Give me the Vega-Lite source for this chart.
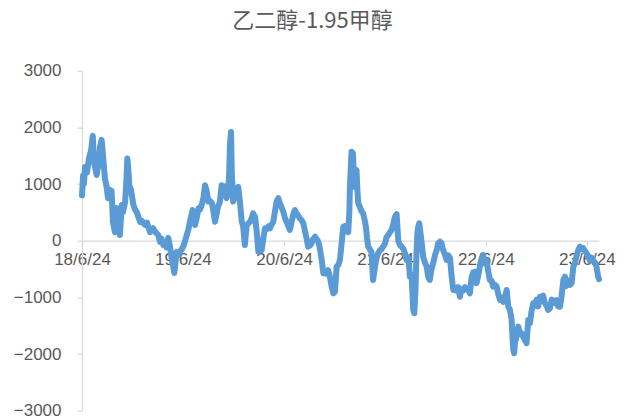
{
  "$schema": "https://vega.github.io/schema/vega-lite/v6.json",
  "width": 517,
  "height": 340,
  "autosize": {"type": "none"},
  "padding": {"left": 82, "top": 70.7, "right": 30, "bottom": 9.3},
  "background": "#ffffff",
  "config": {"view": {"stroke": null}, "font": "Liberation Sans"},
  "title": {
    "text": "乙二醇-1.95甲醇",
    "font": "Noto Sans CJK SC",
    "fontSize": 22,
    "fontWeight": "normal",
    "color": "#595959",
    "anchor": "middle",
    "dx": -28,
    "offset": 29
  },
  "data": {
    "format": {"parse": {"d": "date:'%Y-%j'"}},
    "values": [
      {"d":"2018-175","v":800},{"d":"2018-179","v":1150},{"d":"2018-182","v":1000},{"d":"2018-186","v":1300},{"d":"2018-193","v":1200},{"d":"2018-200","v":1450},{"d":"2018-208","v":1600},{"d":"2018-214","v":1850},{"d":"2018-218","v":1400},{"d":"2018-228","v":1160},{"d":"2018-233","v":1300},{"d":"2018-240","v":1650},{"d":"2018-246","v":1780},{"d":"2018-251","v":1500},{"d":"2018-258","v":1100},{"d":"2018-264","v":950},{"d":"2018-269","v":750},{"d":"2018-274","v":900},{"d":"2018-282","v":880},{"d":"2018-287","v":330},{"d":"2018-294","v":150},{"d":"2018-300","v":575},{"d":"2018-305","v":450},{"d":"2018-312","v":100},{"d":"2018-319","v":630},{"d":"2018-323","v":500},{"d":"2018-331","v":680},{"d":"2018-336","v":1100},{"d":"2018-339","v":1450},{"d":"2018-342","v":1300},{"d":"2018-346","v":980},{"d":"2018-352","v":900},{"d":"2018-361","v":630},
      {"d":"2019-002","v":550},{"d":"2019-008","v":505},{"d":"2019-014","v":420},{"d":"2019-020","v":330},{"d":"2019-027","v":350},{"d":"2019-032","v":310},{"d":"2019-038","v":280},{"d":"2019-045","v":320},{"d":"2019-056","v":150},{"d":"2019-067","v":220},{"d":"2019-074","v":160},{"d":"2019-086","v":100},{"d":"2019-092","v":-20},{"d":"2019-097","v":40},{"d":"2019-104","v":-75},{"d":"2019-110","v":-50},{"d":"2019-116","v":-120},{"d":"2019-122","v":50},{"d":"2019-128","v":-100},{"d":"2019-134","v":-300},{"d":"2019-140","v":-450},{"d":"2019-144","v":-570},{"d":"2019-148","v":-400},{"d":"2019-152","v":-200},{"d":"2019-159","v":-250},{"d":"2019-164","v":-195},{"d":"2019-170","v":-160},{"d":"2019-176","v":-105},{"d":"2019-182","v":-20},{"d":"2019-189","v":100},{"d":"2019-195","v":200},{"d":"2019-201","v":350},{"d":"2019-210","v":540},{"d":"2019-215","v":420},{"d":"2019-219","v":277},{"d":"2019-225","v":400},{"d":"2019-231","v":570},{"d":"2019-237","v":550},{"d":"2019-243","v":630},{"d":"2019-249","v":750},{"d":"2019-255","v":980},{"d":"2019-260","v":900},{"d":"2019-267","v":690},{"d":"2019-273","v":700},{"d":"2019-280","v":660},{"d":"2019-286","v":500},{"d":"2019-291","v":335},{"d":"2019-296","v":450},{"d":"2019-302","v":600},{"d":"2019-309","v":690},{"d":"2019-315","v":980},{"d":"2019-322","v":950},{"d":"2019-327","v":960},{"d":"2019-333","v":750},{"d":"2019-340","v":900},{"d":"2019-343","v":1300},{"d":"2019-345","v":1690},{"d":"2019-349","v":1920},{"d":"2019-352","v":1160},{"d":"2019-357","v":690},{"d":"2019-363","v":800},
      {"d":"2020-004","v":900},{"d":"2020-010","v":950},{"d":"2020-016","v":700},{"d":"2020-023","v":335},{"d":"2020-028","v":250},{"d":"2020-034","v":-75},{"d":"2020-041","v":277},{"d":"2020-046","v":300},{"d":"2020-053","v":335},{"d":"2020-059","v":400},{"d":"2020-064","v":483},{"d":"2020-071","v":420},{"d":"2020-077","v":160},{"d":"2020-083","v":-195},{"d":"2020-089","v":-100},{"d":"2020-095","v":-165},{"d":"2020-101","v":40},{"d":"2020-107","v":218},{"d":"2020-112","v":200},{"d":"2020-119","v":250},{"d":"2020-125","v":218},{"d":"2020-130","v":280},{"d":"2020-137","v":335},{"d":"2020-143","v":520},{"d":"2020-149","v":690},{"d":"2020-155","v":750},{"d":"2020-161","v":650},{"d":"2020-166","v":600},{"d":"2020-173","v":510},{"d":"2020-179","v":400},{"d":"2020-185","v":335},{"d":"2020-192","v":250},{"d":"2020-197","v":189},{"d":"2020-204","v":350},{"d":"2020-210","v":480},{"d":"2020-215","v":540},{"d":"2020-221","v":480},{"d":"2020-226","v":450},{"d":"2020-232","v":400},{"d":"2020-239","v":365},{"d":"2020-246","v":300},{"d":"2020-251","v":180},{"d":"2020-257","v":50},{"d":"2020-263","v":-105},{"d":"2020-270","v":-80},{"d":"2020-275","v":-50},{"d":"2020-280","v":20},{"d":"2020-288","v":70},{"d":"2020-293","v":30},{"d":"2020-298","v":0},{"d":"2020-304","v":-100},{"d":"2020-312","v":-340},{"d":"2020-318","v":-575},{"d":"2020-324","v":-560},{"d":"2020-329","v":-580},{"d":"2020-335","v":-520},{"d":"2020-340","v":-600},{"d":"2020-348","v":-810},{"d":"2020-354","v":-930},{"d":"2020-360","v":-900},{"d":"2020-366","v":-460},
      {"d":"2021-007","v":-420},{"d":"2021-012","v":-340},{"d":"2021-017","v":-100},{"d":"2021-024","v":247},{"d":"2021-030","v":260},{"d":"2021-036","v":247},{"d":"2021-042","v":150},{"d":"2021-046","v":500},{"d":"2021-048","v":950},{"d":"2021-054","v":1570},{"d":"2021-059","v":1540},{"d":"2021-064","v":950},{"d":"2021-072","v":1247},{"d":"2021-075","v":900},{"d":"2021-078","v":660},{"d":"2021-084","v":600},{"d":"2021-090","v":520},{"d":"2021-096","v":483},{"d":"2021-102","v":350},{"d":"2021-106","v":247},{"d":"2021-110","v":50},{"d":"2021-114","v":-105},{"d":"2021-120","v":-150},{"d":"2021-126","v":-200},{"d":"2021-132","v":-693},{"d":"2021-139","v":-450},{"d":"2021-144","v":-300},{"d":"2021-150","v":-222},{"d":"2021-157","v":-165},{"d":"2021-162","v":-150},{"d":"2021-169","v":-100},{"d":"2021-175","v":-50},{"d":"2021-181","v":70},{"d":"2021-187","v":100},{"d":"2021-193","v":150},{"d":"2021-199","v":189},{"d":"2021-205","v":300},{"d":"2021-211","v":423},{"d":"2021-217","v":470},{"d":"2021-223","v":0},{"d":"2021-229","v":-80},{"d":"2021-235","v":-105},{"d":"2021-242","v":-150},{"d":"2021-247","v":-220},{"d":"2021-253","v":-340},{"d":"2021-260","v":-300},{"d":"2021-265","v":-635},{"d":"2021-271","v":-600},{"d":"2021-274","v":-900},{"d":"2021-277","v":-1222},{"d":"2021-281","v":-1280},{"d":"2021-285","v":-900},{"d":"2021-289","v":-200},{"d":"2021-292","v":130},{"d":"2021-295","v":247},{"d":"2021-299","v":307},{"d":"2021-303","v":150},{"d":"2021-309","v":-100},{"d":"2021-313","v":-282},{"d":"2021-319","v":-380},{"d":"2021-326","v":-460},{"d":"2021-331","v":-635},{"d":"2021-337","v":-693},{"d":"2021-343","v":-500},{"d":"2021-349","v":-400},{"d":"2021-356","v":-250},{"d":"2021-362","v":-165},
      {"d":"2022-002","v":-50},{"d":"2022-009","v":-18},{"d":"2022-014","v":-40},{"d":"2022-019","v":-150},{"d":"2022-027","v":-250},{"d":"2022-033","v":-340},{"d":"2022-039","v":-260},{"d":"2022-045","v":-300},{"d":"2022-051","v":-635},{"d":"2022-057","v":-870},{"d":"2022-063","v":-850},{"d":"2022-068","v":-880},{"d":"2022-074","v":-820},{"d":"2022-081","v":-988},{"d":"2022-086","v":-850},{"d":"2022-092","v":-880},{"d":"2022-099","v":-820},{"d":"2022-104","v":-860},{"d":"2022-111","v":-850},{"d":"2022-117","v":-930},{"d":"2022-123","v":-650},{"d":"2022-129","v":-560},{"d":"2022-135","v":-550},{"d":"2022-141","v":-750},{"d":"2022-147","v":-620},{"d":"2022-153","v":-460},{"d":"2022-159","v":-350},{"d":"2022-165","v":-252},{"d":"2022-171","v":-400},{"d":"2022-178","v":-350},{"d":"2022-182","v":-500},{"d":"2022-189","v":-693},{"d":"2022-195","v":-700},{"d":"2022-201","v":-810},{"d":"2022-208","v":-780},{"d":"2022-214","v":-810},{"d":"2022-220","v":-950},{"d":"2022-226","v":-1045},{"d":"2022-232","v":-1000},{"d":"2022-238","v":-1080},{"d":"2022-244","v":-1000},{"d":"2022-250","v":-870},{"d":"2022-256","v":-1164},{"d":"2022-262","v":-1222},{"d":"2022-268","v":-1400},{"d":"2022-271","v":-1700},{"d":"2022-274","v":-1928},{"d":"2022-277","v":-1986},{"d":"2022-280","v":-1800},{"d":"2022-285","v":-1700},{"d":"2022-292","v":-1516},{"d":"2022-298","v":-1650},{"d":"2022-304","v":-1633},{"d":"2022-310","v":-1700},{"d":"2022-316","v":-1751},{"d":"2022-322","v":-1810},{"d":"2022-328","v":-1400},{"d":"2022-334","v":-1457},{"d":"2022-340","v":-1250},{"d":"2022-346","v":-1104},{"d":"2022-352","v":-1150},{"d":"2022-358","v":-1045},{"d":"2022-364","v":-1160},
      {"d":"2023-005","v":-988},{"d":"2023-011","v":-1000},{"d":"2023-017","v":-970},{"d":"2023-023","v":-1100},{"d":"2023-030","v":-1150},{"d":"2023-035","v":-1222},{"d":"2023-041","v":-1200},{"d":"2023-048","v":-1040},{"d":"2023-053","v":-1050},{"d":"2023-060","v":-1100},{"d":"2023-066","v":-1050},{"d":"2023-071","v":-1160},{"d":"2023-078","v":-1164},{"d":"2023-083","v":-1000},{"d":"2023-090","v":-693},{"d":"2023-096","v":-635},{"d":"2023-101","v":-800},{"d":"2023-108","v":-700},{"d":"2023-114","v":-780},{"d":"2023-120","v":-750},{"d":"2023-126","v":-460},{"d":"2023-132","v":-400},{"d":"2023-137","v":-282},{"d":"2023-144","v":-165},{"d":"2023-150","v":-105},{"d":"2023-156","v":-150},{"d":"2023-162","v":-130},{"d":"2023-168","v":-180},{"d":"2023-174","v":-222},{"d":"2023-180","v":-280},{"d":"2023-186","v":-350},{"d":"2023-192","v":-300},{"d":"2023-198","v":-360},{"d":"2023-204","v":-380},{"d":"2023-210","v":-460},{"d":"2023-216","v":-635},{"d":"2023-219","v":-680}
    ]
  },
  "mark": {"type": "line", "color": "#5B9BD5", "strokeWidth": 6, "strokeJoin": "round", "strokeCap": "round"},
  "encoding": {
    "x": {
      "field": "d",
      "type": "temporal",
      "scale": {"nice": false},
      "axis": {
        "title": null,
        "values": [
          {"year": 2018, "month": 6, "date": 24},
          {"year": 2019, "month": 6, "date": 24},
          {"year": 2020, "month": 6, "date": 24},
          {"year": 2021, "month": 6, "date": 24},
          {"year": 2022, "month": 6, "date": 24},
          {"year": 2023, "month": 6, "date": 24}
        ],
        "format": "%y/%-m/%d",
        "offset": -170,
        "grid": false,
        "domainColor": "#D9D9D9",
        "domainWidth": 1.3,
        "tickColor": "#D9D9D9",
        "tickWidth": 1.3,
        "tickSize": 5,
        "labelFont": "Liberation Sans",
        "labelFontSize": 17,
        "labelColor": "#595959",
        "labelPadding": 6,
        "labelOverlap": false,
        "labelFlush": false,
        "zindex": 0
      }
    },
    "y": {
      "field": "v",
      "type": "quantitative",
      "scale": {"domain": [-3000, 3000], "nice": false, "zero": false},
      "axis": {
        "title": null,
        "values": [-3000, -2000, -1000, 0, 1000, 2000, 3000],
        "format": "d",
        "grid": false,
        "domainColor": "#D9D9D9",
        "domainWidth": 1.3,
        "tickColor": "#D9D9D9",
        "tickWidth": 1.3,
        "tickSize": 5,
        "labelFont": "Liberation Sans",
        "labelFontSize": 17,
        "labelColor": "#595959",
        "labelPadding": 16
      }
    }
  }
}
